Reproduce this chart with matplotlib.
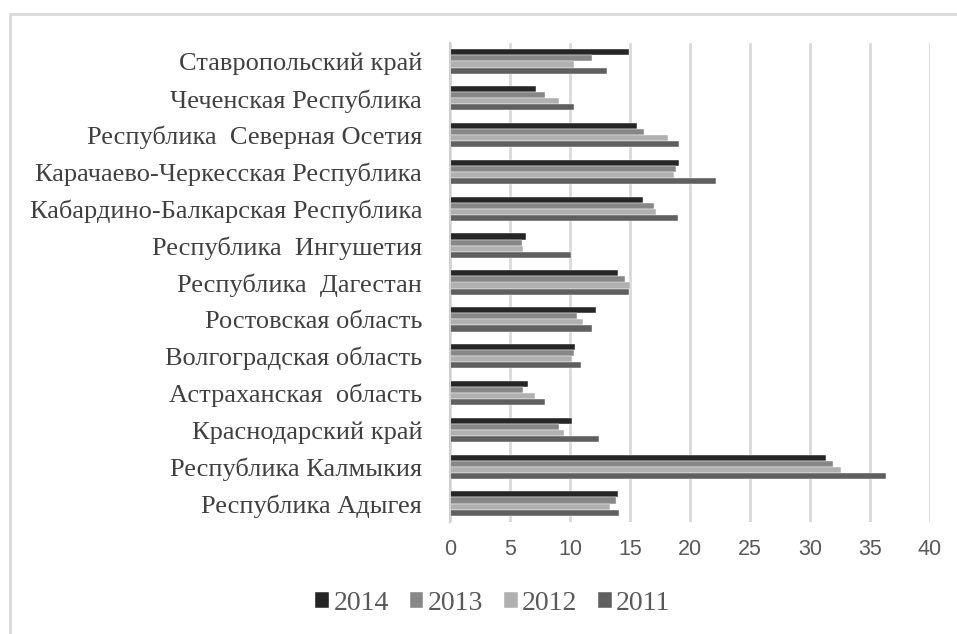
import matplotlib
matplotlib.use("Agg")
import matplotlib.pyplot as plt
import numpy as np
from matplotlib.patches import Rectangle

categories = ["Республика Адыгея", "Республика Калмыкия", "Краснодарский край",
              "Астраханская  область", "Волгоградская область", "Ростовская область",
              "Республика  Дагестан", "Республика  Ингушетия", "Кабардино-Балкарская Республика",
              "Карачаево-Черкесская Республика", "Республика  Северная Осетия",
              "Чеченская Республика", "Ставропольский край"]
years = ["2014", "2013", "2012", "2011"]
v2014 = [14.0, 31.3, 10.2, 6.5, 10.4, 12.2, 14.0, 6.3, 16.1, 19.1, 15.6, 7.2, 14.9]
v2013 = [13.8, 31.9, 9.1, 6.1, 10.3, 10.6, 14.6, 6.0, 17.0, 18.8, 16.2, 7.9, 11.8]
v2012 = [13.3, 32.6, 9.5, 7.1, 10.2, 11.1, 15.0, 6.1, 17.2, 18.7, 18.2, 9.1, 10.3]
v2011 = [14.1, 36.3, 12.4, 7.9, 10.9, 11.8, 14.9, 10.1, 19.0, 22.2, 19.1, 10.3, 13.1]
series = [v2014, v2013, v2012, v2011]
colors = ["#262626", "#878787", "#b0b0b0", "#5f5f5f"]
xticks = [0, 5, 10, 15, 20, 25, 30, 35, 40]

fig = plt.figure(figsize=(9.57, 6.34), dpi=100)
ax = fig.add_axes([450/957, 1 - 522/634, 480/957, 479/634])

n = len(categories)
y = np.arange(n)
bh = 0.165
offsets = [1.5, 0.5, -0.5, -1.5]
for vals, col, lab, off in zip(series, colors, years, offsets):
    ax.barh(y + off * bh, vals, height=bh, color=col, label=lab,
            edgecolor="white", linewidth=0.3, zorder=3)

ax.set_xlim(0, 40)
ax.set_ylim(-0.5, n - 0.5)
ax.set_xticks(xticks)
ax.set_xticklabels([str(t) for t in xticks], fontsize=15.5, color="#595959",
                   family="Liberation Sans")
ax.set_yticks(y)
ax.set_yticklabels(categories, fontsize=19, color="#404040", family="Liberation Serif")
ax.tick_params(axis="y", length=0, pad=20)
ax.tick_params(axis="x", length=0, pad=12)
ax.grid(axis="x", color="#d9d9d9", linewidth=2, zorder=0)
for s in ["top", "right", "bottom"]:
    ax.spines[s].set_visible(False)
ax.spines["left"].set_color("#d0d0d0")
ax.spines["left"].set_linewidth(1.5)
ax.spines["left"].set_zorder(4)

leg = fig.legend(loc="center", bbox_to_anchor=(493/957, 1 - 603/634), ncol=4,
                 frameon=False, prop={"family": "Liberation Serif", "size": 20},
                 handlelength=0.5, handleheight=0.5, handletextpad=0.15, columnspacing=0.75)
for t in leg.get_texts():
    t.set_color("#595959")

fig.patches.append(Rectangle((10/957, -0.1), 1.2, 1 - 14/634 + 0.1,
                             transform=fig.transFigure, fill=False,
                             edgecolor="#d9d9d9", linewidth=2))

fig.savefig("out.png", dpi=100)
